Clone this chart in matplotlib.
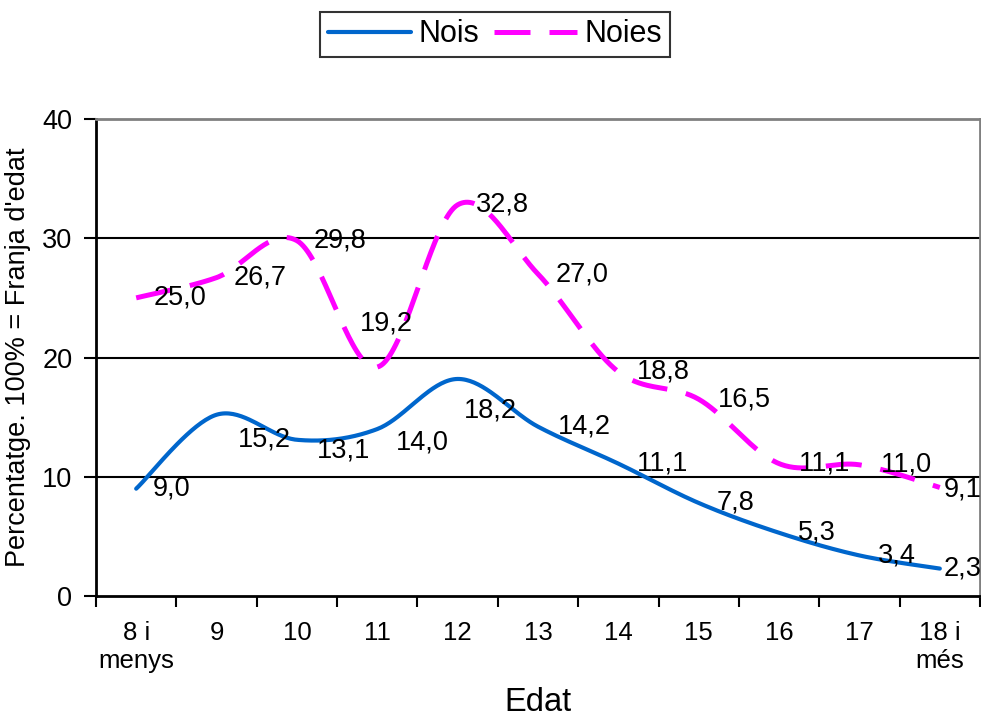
import numpy as np
import matplotlib
matplotlib.use('Agg')
import matplotlib.pyplot as plt
from matplotlib.lines import Line2D
from matplotlib.ticker import FixedLocator, NullFormatter

plt.rcParams['font.family'] = ['Liberation Sans', 'DejaVu Sans']

# Dades
edats = ['8 i\nmenys', '9', '10', '11', '12', '13', '14', '15', '16', '17', '18 i\nmés']
nois = [9.0, 15.2, 13.1, 14.0, 18.2, 14.2, 11.1, 7.8, 5.3, 3.4, 2.3]
noies = [25.0, 26.7, 29.8, 19.2, 32.8, 27.0, 18.8, 16.5, 11.1, 11.0, 9.1]

# desplaçament de les etiquetes (píxels)
off_nois = [(17, 0), (21, -25), (20, -11), (19, -13), (6, -32), (20, 0),
            (19, 0), (18, 0), (19, 0), (18, 0), (4, 0)]
off_noies = [(17, 0), (17, 0), (17, 0), (-17, 44), (18, 0), (18, 0),
             (19, 0), (19, 0), (20, 0), (21, 0), (4, -2)]


def suavitza(y, n=40):
    # corba suau tipus Excel (Bezier amb punts de control a 1/6)
    x = np.arange(len(y), dtype=float)
    p = np.column_stack([x, np.asarray(y, dtype=float)])
    pp = np.vstack([p[0], p, p[-1]])
    t = np.linspace(0, 1, n)[:, None]
    out = []
    for i in range(len(p) - 1):
        p0, p1 = pp[i + 1], pp[i + 2]
        c1 = p0 + (pp[i + 2] - pp[i]) / 6
        c2 = p1 - (pp[i + 3] - pp[i + 1]) / 6
        seg = ((1 - t) ** 3) * p0 + 3 * ((1 - t) ** 2) * t * c1 + 3 * (1 - t) * t ** 2 * c2 + t ** 3 * p1
        out.append(seg if i == 0 else seg[1:])
    out = np.vstack(out)
    return out[:, 0], out[:, 1]


fig = plt.figure(figsize=(9.81, 7.2), dpi=100)
ax = fig.add_axes([96 / 981, 1 - 596 / 720, 884 / 981, 477 / 720])

blau = '#0066CC'
magenta = '#FF00FF'

for v in [10, 20, 30]:
    ax.axhline(v, color='black', lw=1.5, zorder=1)

xs, ys = suavitza(nois)
ax.plot(xs, ys, color=blau, lw=3.0, solid_capstyle='round', zorder=3)
xs, ys = suavitza(noies)
ax.plot(xs, ys, color=magenta, lw=3.6, dashes=(7.2, 3.8), dash_capstyle='butt', zorder=3)

for i, v in enumerate(nois):
    ax.annotate(f'{v:.1f}'.replace('.', ','), (i, v), xytext=off_nois[i],
                textcoords='offset pixels', ha='left', va='center', fontsize=19.5, zorder=4)
for i, v in enumerate(noies):
    ax.annotate(f'{v:.1f}'.replace('.', ','), (i, v), xytext=off_noies[i],
                textcoords='offset pixels', ha='left', va='center', fontsize=19.5, zorder=4)

ax.set_xlim(-0.5, len(edats) - 0.5)
ax.set_ylim(0, 40)
ax.set_yticks([0, 10, 20, 30, 40])
ax.tick_params(axis='y', labelsize=19.5, length=9, width=1.5, pad=8)

ax.xaxis.set_major_locator(FixedLocator(np.arange(len(edats) + 1) - 0.5))
ax.xaxis.set_major_formatter(NullFormatter())
ax.xaxis.set_minor_locator(FixedLocator(np.arange(len(edats))))
ax.set_xticklabels(edats, minor=True)
ax.tick_params(axis='x', which='major', length=8, width=1.5)
ax.tick_params(axis='x', which='minor', length=0, labelsize=18.5, pad=18)

for s in ['left', 'bottom']:
    ax.spines[s].set_linewidth(2)
    ax.spines[s].set_color('black')
for s in ['top', 'right']:
    ax.spines[s].set_linewidth(2)
    ax.spines[s].set_color('#808080')

ax.set_xlabel('Edat', fontsize=23.5, labelpad=10)
ax.set_ylabel("Percentatge. 100% = Franja d'edat", fontsize=19.5, labelpad=8)

handles = [Line2D([], [], color=blau, lw=3.0, solid_capstyle='round'),
           Line2D([], [], color=magenta, lw=3.6, dashes=(7.2, 3.8))]
leg = fig.legend(handles, ['Nois', 'Noies'], loc='center', bbox_to_anchor=(495 / 981, 1 - 34.5 / 720),
                 ncol=2, fontsize=22, frameon=True, fancybox=False, edgecolor='black',
                 handlelength=2.7, handletextpad=0.25, columnspacing=0.5, borderpad=0.25,
                 borderaxespad=0)
leg.get_frame().set_linewidth(1.5)

fig.savefig('out.png', dpi=100)
